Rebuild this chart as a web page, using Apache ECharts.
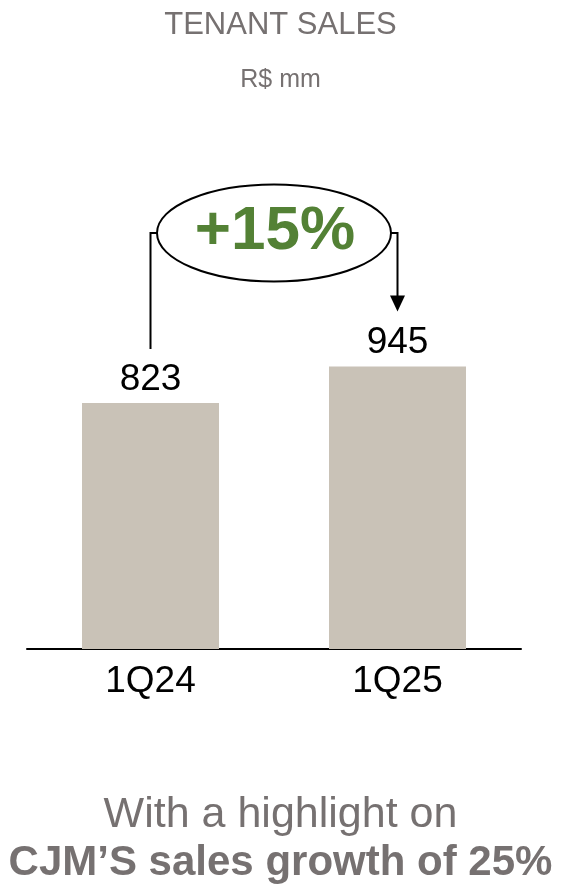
<!DOCTYPE html>
<html><head><meta charset="utf-8">
<script src="https://cdn.jsdelivr.net/npm/echarts@6/dist/echarts.min.js"></script>
<style>html,body{margin:0;padding:0;background:#fff}#c{width:561px;height:890px}</style>
</head><body><div id="c"></div>
<script>
const categories = ['1Q24', '1Q25'];
const tenantSales = [823, 945];
const growthLabel = '+15%';
const titleText = 'TENANT SALES';
const unitText = 'R$ mm';
const footLine1 = 'With a highlight on';
const footLine2 = 'CJM\u2019S sales growth of 25%';

const FONT = 'Liberation Sans';
const GRAY = '#767171';
const chart = echarts.init(document.getElementById('c'));
chart.setOption({
  animation: false,
  backgroundColor: '#fff',
  grid: {left: 27, right: 40, top: 350, bottom: 241},
  xAxis: {
    type: 'category', data: categories,
    axisLine: {lineStyle: {color: '#000', width: 2}},
    axisTick: {show: false},
    axisLabel: {fontFamily: FONT, fontSize: 37, color: '#000', margin: 14}
  },
  yAxis: {type: 'value', min: 0, max: 1000, show: false, splitLine: {show: false}},
  series: [{
    type: 'bar', data: tenantSales, barWidth: 137,
    itemStyle: {color: '#c9c2b7'},
    label: {show: true, position: 'top', distance: 5, fontFamily: FONT, fontSize: 37, color: '#000'}
  }]
});

const p1 = chart.convertToPixel({seriesIndex: 0}, [0, tenantSales[0]]);
const p2 = chart.convertToPixel({seriesIndex: 0}, [1, tenantSales[1]]);
const yMid = 233;
const ecx = (p1[0] + p2[0]) / 2, rx = 117, ry = 48.5;
function txt(text, y, size, weight, color) {
  return {type: 'text', x: 280.5, y: y, style: {text: text, align: 'center', verticalAlign: 'middle', fontFamily: FONT, fontWeight: weight, fontSize: size, fill: color}};
}
chart.setOption({
  graphic: [
    txt(titleText, 25, 31, 'normal', GRAY),
    txt(unitText, 80, 25, 'normal', GRAY),
    txt(footLine1, 815, 43, 'normal', GRAY),
    txt(footLine2, 863, 42, 'bold', GRAY),
    {type: 'polyline', shape: {points: [[p1[0], p1[1] - 54], [p1[0], yMid], [ecx - rx, yMid]]}, style: {stroke: '#000', lineWidth: 2, fill: null}},
    {type: 'polyline', shape: {points: [[ecx + rx, yMid], [p2[0], yMid], [p2[0], p2[1] - 69]]}, style: {stroke: '#000', lineWidth: 2, fill: null}},
    {type: 'polygon', shape: {points: [[p2[0] - 7.5, p2[1] - 71], [p2[0] + 7.5, p2[1] - 71], [p2[0], p2[1] - 55]]}, style: {fill: '#000'}},
    {type: 'ellipse', shape: {cx: ecx, cy: yMid, rx: rx, ry: ry}, style: {stroke: '#000', lineWidth: 2, fill: '#fff'}},
    {type: 'text', x: ecx + 1, y: yMid - 1, style: {text: growthLabel, align: 'center', verticalAlign: 'middle', fontFamily: FONT, fontWeight: 'bold', fontSize: 62, fill: '#538135'}}
  ]
});
</script></body></html>
